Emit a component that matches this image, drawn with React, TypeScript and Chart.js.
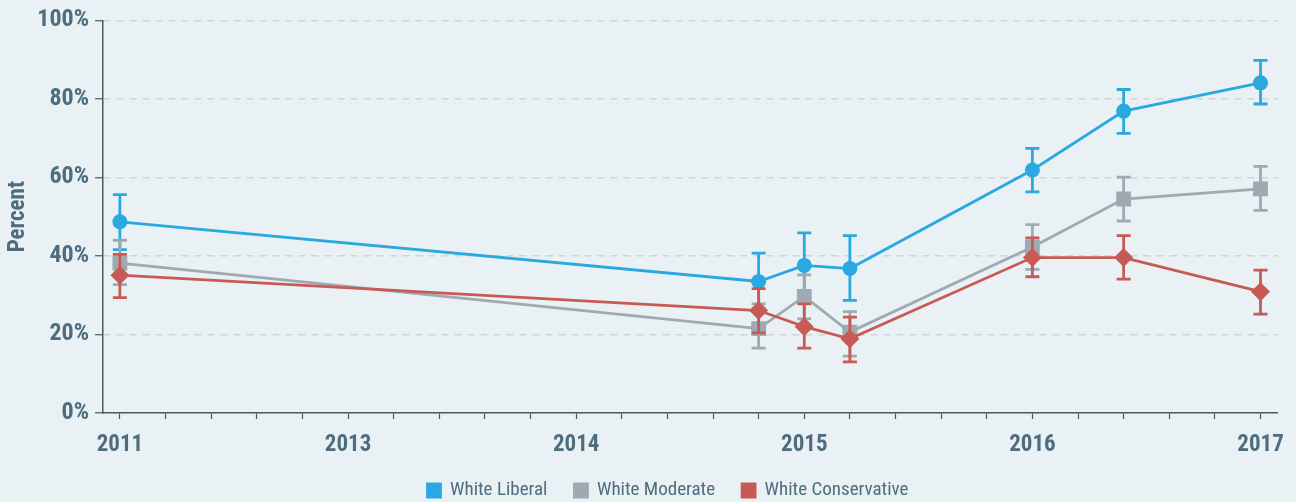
import React, { useEffect, useRef } from 'react';
import { Chart, registerables } from 'chart.js';

Chart.register(...registerables);

// x positions on an evenly spaced tick grid (ticks 0..25, labels every 5)
const pointPositions = [0, 14, 15, 16, 20, 22, 25];
const minorTicks = [0, 1, 2, 3, 4, 5, 6, 7, 8, 9, 10, 11, 12, 13, 14, 15, 16, 17, 18, 19, 20, 21, 22, 23, 24, 25];
const tickPositions = [0, 5, 10, 15, 20, 25];
const tickLabels = ['2011', '2013', '2014', '2015', '2016', '2017'];

const liberal = [48.7, 33.5, 37.6, 36.8, 61.9, 76.9, 84.1];
const liberalLow = [41.6, 26.5, 29.3, 28.7, 56.3, 71.2, 78.7];
const liberalHigh = [55.6, 40.7, 45.9, 45.2, 67.4, 82.4, 89.8];

const moderate = [38.2, 21.5, 29.7, 20.6, 42.3, 54.5, 57.1];
const moderateLow = [32.7, 16.5, 24.0, 14.5, 36.6, 48.9, 51.6];
const moderateHigh = [44.0, 27.8, 35.2, 25.8, 48.0, 60.1, 62.8];

const conservative = [35.1, 26.1, 22.0, 18.9, 39.6, 39.6, 30.9];
const conservativeLow = [29.4, 20.4, 16.5, 13.0, 34.7, 34.1, 25.2];
const conservativeHigh = [40.4, 31.7, 27.8, 24.4, 44.6, 45.2, 36.4];

const BLUE = '#2aa8e0';
const GRAY = '#9fa9b1';
const RED = '#c85a55';
const TEXT = '#4e6d7e';
const AXIS = '#50575e';
const BG = '#e9f1f5';
const FONT = '"Liberation Sans Narrow", "Roboto Condensed", "DejaVu Sans Condensed", Roboto, sans-serif';

const errorBars = {
  id: 'errorBars',
  beforeDatasetDraw(chart: any, args: any) {
    const ds: any = chart.data.datasets[args.index];
    if (!ds.errLow) return;
    const yScale = chart.scales.y;
    const ctx = chart.ctx;
    ctx.save();
    ctx.strokeStyle = ds.borderColor;
    ctx.lineWidth = 2.8;
    args.meta.data.forEach((pt: any, i: number) => {
      const x = pt.x;
      const yl = yScale.getPixelForValue(ds.errLow[i]);
      const yh = yScale.getPixelForValue(ds.errHigh[i]);
      ctx.beginPath();
      ctx.moveTo(x, yl);
      ctx.lineTo(x, yh);
      ctx.moveTo(x - 7, yl);
      ctx.lineTo(x + 7, yl);
      ctx.moveTo(x - 7, yh);
      ctx.lineTo(x + 7, yh);
      ctx.stroke();
    });
    ctx.restore();
  },
};

// nudge the legend row to the right, where the reference places it
const legendShift = {
  id: 'legendShift',
  afterLayout(chart: any) {
    if (chart.legend) {
      chart.legend.left += 28;
      chart.legend.right += 28;
    }
  },
};

function toPoints(values: number[]) {
  return pointPositions.map((x, i) => ({ x, y: values[i] }));
}

export default function App() {
  const ref = useRef<HTMLCanvasElement | null>(null);

  useEffect(() => {
    document.body.style.margin = '0';
    document.body.style.background = BG;
    const canvas = ref.current;
    if (!canvas) return;
    const chart = new Chart(canvas, {
      type: 'line',
      data: {
        datasets: [
          {
            label: 'White Liberal',
            data: toPoints(liberal),
            errLow: liberalLow,
            errHigh: liberalHigh,
            borderColor: BLUE,
            backgroundColor: BLUE,
            borderWidth: 2.8,
            pointStyle: 'circle',
            pointRadius: 7.5,
            pointBorderWidth: 0,
            pointBackgroundColor: BLUE,
            order: 2,
          } as any,
          {
            label: 'White Moderate',
            data: toPoints(moderate),
            errLow: moderateLow,
            errHigh: moderateHigh,
            borderColor: GRAY,
            backgroundColor: GRAY,
            borderWidth: 2.8,
            pointStyle: 'rect',
            pointRadius: 10.5,
            pointBorderWidth: 0,
            pointBackgroundColor: GRAY,
            order: 1,
          } as any,
          {
            label: 'White Conservative',
            data: toPoints(conservative),
            errLow: conservativeLow,
            errHigh: conservativeHigh,
            borderColor: RED,
            backgroundColor: RED,
            borderWidth: 2.8,
            pointStyle: 'rectRot',
            pointRadius: 9.5,
            pointBorderWidth: 0,
            pointBackgroundColor: RED,
            order: 0,
          } as any,
        ],
      },
      options: {
        responsive: false,
        animation: false,
        layout: { padding: { top: 18, right: 16, left: 0, bottom: 0 } },
        plugins: {
          tooltip: { enabled: false },
          legend: {
            position: 'bottom',
            maxHeight: 48,
            labels: {
              color: TEXT,
              font: { family: FONT, size: 19 },
              boxWidth: 13,
              boxHeight: 13,
              padding: 27,
              sort: (a: any, b: any) => a.datasetIndex - b.datasetIndex,
            },
          },
        },
        scales: {
          x: {
            type: 'linear',
            min: -0.37,
            max: 25.38,
            afterBuildTicks: (scale: any) => {
              scale.ticks = minorTicks.map((v) => ({ value: v }));
            },
            afterFit: (scale: any) => {
              scale.height = 41;
            },
            ticks: {
              autoSkip: false,
              maxRotation: 0,
              padding: 12,
              color: TEXT,
              font: { family: FONT, size: 23, weight: 'bold' },
              callback: (v: any) => {
                const idx = tickPositions.indexOf(Number(v));
                return idx >= 0 ? tickLabels[idx] : '';
              },
            },
            grid: {
              drawOnChartArea: false,
              drawTicks: true,
              tickLength: 6,
              tickColor: AXIS,
              tickWidth: 1.2,
            },
            border: { color: AXIS, width: 1.5 },
          },
          y: {
            min: 0,
            max: 100,
            afterFit: (scale: any) => {
              scale.width = 103;
            },
            ticks: {
              stepSize: 20,
              padding: 6,
              color: TEXT,
              font: { family: FONT, size: 24, weight: 'bold' },
              callback: (v: any) => `${v}%`,
            },
            title: {
              display: true,
              text: 'Percent',
              color: TEXT,
              font: { family: FONT, size: 23, weight: 'bold' },
              padding: { top: 4, bottom: 0 },
            },
            grid: {
              color: (c: any) => (c.tick && c.tick.value === 0 ? 'rgba(0,0,0,0)' : '#cfd5d8'),
              lineWidth: 1.5,
              tickLength: 8,
              tickColor: AXIS,
              tickWidth: 1.2,
            },
            border: { color: AXIS, width: 1.5, dash: [7, 6] },
          },
        },
      },
      plugins: [errorBars, legendShift],
    } as any);
    return () => chart.destroy();
  }, []);

  return (
    <div style={{ width: 1296, height: 502, background: BG }}>
      <canvas ref={ref} width={1296} height={502} style={{ display: 'block' }} />
    </div>
  );
}
